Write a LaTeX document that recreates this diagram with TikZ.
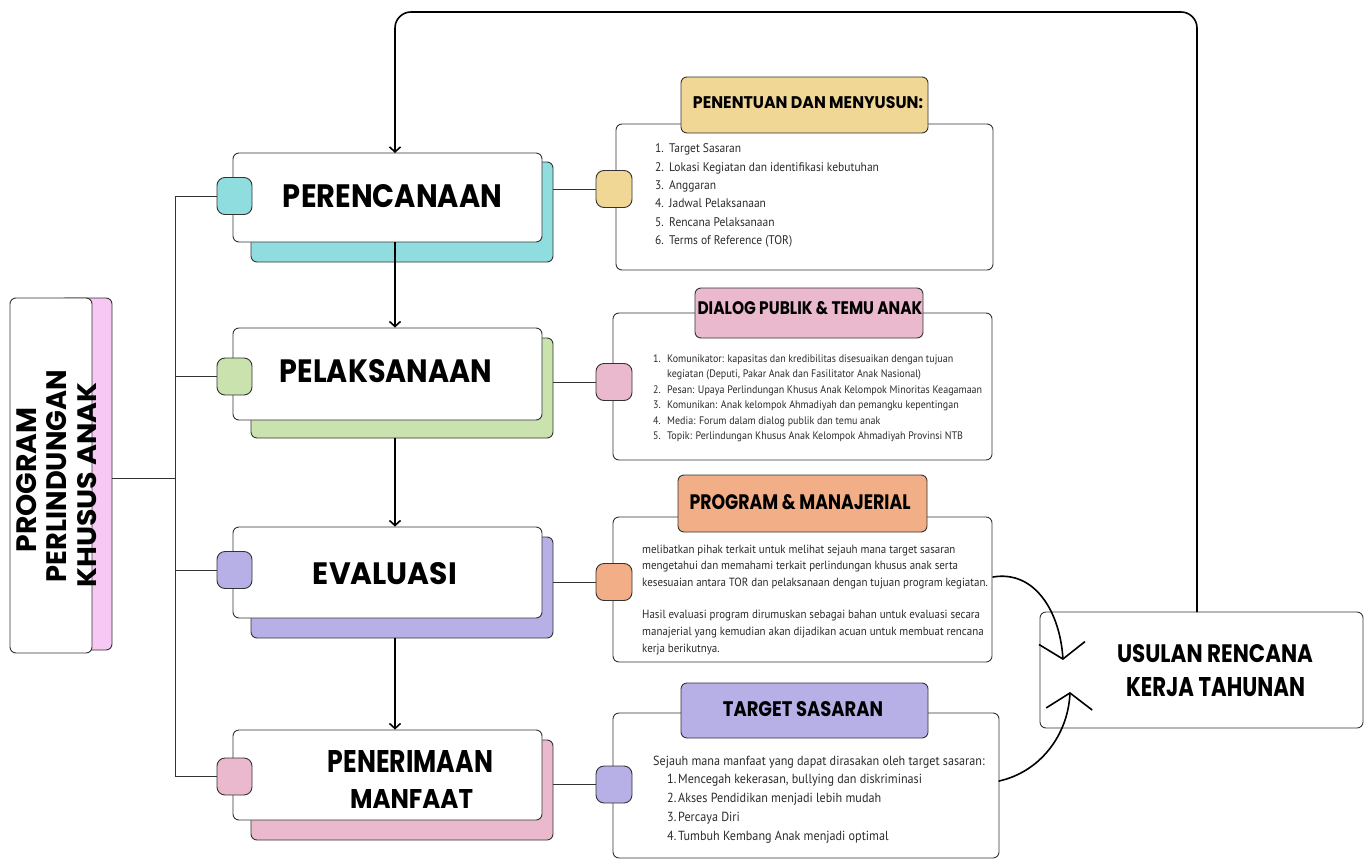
\documentclass[tikz,border=0pt]{standalone}
\usepackage{fontspec}
\setmainfont{PT Sans}
\newfontfamily\headfont{Poppins}
\newfontfamily\bodyfont[FakeStretch=0.92]{PT Sans}
\usetikzlibrary{arrows.meta,calc}
\definecolor{lc}{HTML}{333333}
\definecolor{txt}{HTML}{2B2B2B}
\definecolor{cteal}{HTML}{8FDDDF}
\definecolor{cgreen}{HTML}{C9E2AE}
\definecolor{cpurple}{HTML}{B6B0E6}
\definecolor{cpink}{HTML}{EBB9CD}
\definecolor{cyellow}{HTML}{F1D796}
\definecolor{corange}{HTML}{F2AE86}
\definecolor{cmag}{HTML}{F6C8F3}
\newcommand\hd[3]{\resizebox{#1pt}{#2pt}{\headfont\bfseries #3}}
\newcommand\nm[3]{\makebox[#1pt][l]{#2}#3}
\begin{document}
\begin{tikzpicture}[x=1pt,y=-1pt,
  wbox/.style={draw=lc, fill=white, rounded corners=6pt, line width=0.9pt, inner sep=0pt},
  sbox/.style={draw=lc, rounded corners=6pt, line width=0.9pt, inner sep=0pt},
  sqbox/.style={draw=lc, rounded corners=8pt, line width=0.9pt, minimum width=36pt, minimum height=37pt, inner sep=0pt},
  conn/.style={draw=lc, line width=0.9pt},
  arr/.style={draw=black, line width=1.6pt, -{Straight Barb[length=5pt,width=11pt]}},
  bigarr/.style={draw=black, line width=1.6pt, line cap=round, -{Straight Barb[length=16pt,width=46pt]}},
  htext/.style={inner sep=0pt, text=black},
  btext/.style={inner sep=0pt, anchor=base west, text=txt},
]
\useasboundingbox (0,0) rectangle (1368,859);
\fill[white] (0,0) rectangle (1368,859);

% ---------- top loop ----------
\coordinate (usTop) at (1197,612);
\coordinate (perTop) at (395,153);

% ---------- left program box ----------
\node[sbox, fill=cmag, minimum width=52pt, minimum height=352pt] (lpink) at (86,474) {};
\node[wbox, minimum width=82pt, minimum height=355pt] (lbox) at (51,475.5) {};
\node[htext, rotate=90] (lt1) at (27,480) {\hd{145}{20}{PROGRAM}};
\node[htext, rotate=90] (lt2) at (57,476) {\hd{212}{20}{PERLINDUNGAN}};
\node[htext, rotate=90] (lt3) at (87.5,485) {\hd{205}{19}{KHUSUS ANAK}};

% ---------- content boxes (right column) ----------
\node[wbox, minimum width=377pt, minimum height=146pt] (c1) at (804.5,197) {};
\node[wbox, minimum width=379pt, minimum height=147pt] (c2) at (802.5,386.5) {};
\node[wbox, minimum width=379pt, minimum height=145pt] (c3) at (802.5,589.5) {};
\node[wbox, minimum width=386pt, minimum height=145pt] (c4) at (806,785.5) {};

\node[sbox, fill=cyellow, minimum width=247pt, minimum height=56pt] (h1) at (804.5,105) {};
\node[sbox, fill=cpink, minimum width=228pt, minimum height=50pt] (h2) at (809,313) {};
\node[sbox, fill=corange, minimum width=249pt, minimum height=57pt] (h3) at (802.5,503.5) {};
\node[sbox, fill=cpurple, minimum width=247pt, minimum height=55pt] (h4) at (804.5,710.5) {};
\node[htext] (h1t) at (808,103) {\hd{230}{12}{PENENTUAN DAN MENYUSUN:}};
\node[htext] (h2t) at (810,308.5) {\hd{225}{13}{DIALOG PUBLIK \& TEMU ANAK}};
\node[htext] (h3t) at (800,502.5) {\hd{221}{15}{PROGRAM \& MANAJERIAL}};
\node[htext] (h4t) at (803,709.5) {\hd{160}{15}{TARGET SASARAN}};

% ---------- main step boxes ----------
\node[sbox, fill=cteal, minimum width=302pt, minimum height=100pt] (perS) at (402,212) {};
\node[wbox, minimum width=309pt, minimum height=89pt] (per) at (387.5,197.5) {};
\node[sbox, fill=cgreen, minimum width=302pt, minimum height=100pt] (pelS) at (402,388) {};
\node[wbox, minimum width=309pt, minimum height=92pt] (pel) at (387.5,374) {};
\node[sbox, fill=cpurple, minimum width=302pt, minimum height=101pt] (evaS) at (402,587.5) {};
\node[wbox, minimum width=309pt, minimum height=91pt] (eva) at (387.5,572.5) {};
\node[sbox, fill=cpink, minimum width=302pt, minimum height=100pt] (penS) at (402,790) {};
\node[wbox, minimum width=309pt, minimum height=90pt] (pen) at (387.5,775) {};

\node[htext] (pert) at (392.5,196.5) {\hd{219}{23}{PERENCANAAN}};
\node[htext] (pelt) at (386,371.5) {\hd{212}{23}{PELAKSANAAN}};
\node[htext] (evat) at (385,574) {\hd{144}{22}{EVALUASI}};
\node[htext] (pent1) at (410.5,761) {\hd{165}{22}{PENERIMAAN}};
\node[htext] (pent2) at (411.5,799) {\hd{123}{19}{MANFAAT}};

% ---------- connectors: bus on the left ----------
\coordinate (busx) at (175,0);
\draw[conn] ([yshift=-4pt]lpink.east) -- ([yshift=-4pt]lpink.east -| busx);

\node[sqbox, fill=cteal, minimum width=35pt] (la) at (234.5,196) {};
\node[sqbox, fill=cgreen, minimum width=35pt] (lb) at (234.5,376.5) {};
\node[sqbox, fill=cpurple, minimum width=35pt] (lc) at (234.5,570) {};
\node[sqbox, fill=cpink, minimum width=35pt] (ld) at (234.5,776.5) {};
\draw[conn] (la.west) -- (la.west -| busx) -- (ld.west -| busx) -- (ld.west);
\draw[conn] (lb.west) -- (lb.west -| busx);
\draw[conn] (lc.west) -- (lc.west -| busx);

% ---------- connectors to right column ----------
\node[sqbox, fill=cyellow] (ra) at (614,189) {};
\node[sqbox, fill=cpink] (rb) at (614,382) {};
\node[sqbox, fill=corange] (rc) at (614,582) {};
\node[sqbox, fill=cpurple] (rd) at (614,784.5) {};
\draw[conn] (ra.west) -- (ra.west -| perS.east);
\draw[conn] (rb.west) -- (rb.west -| pelS.east);
\draw[conn] (rc.west) -- (rc.west -| evaS.east);
\draw[conn] (rd.west) -- (rd.west -| penS.east);

% ---------- vertical flow arrows ----------
\draw[arr] (per.south -| perTop) -- (pel.north -| perTop);
\draw[arr] (pelS.south -| perTop) -- (eva.north -| perTop);
\draw[arr] (evaS.south -| perTop) -- (pen.north -| perTop);

% ---------- usulan box ----------
\node[wbox, minimum width=323pt, minimum height=116pt] (us) at (1201.5,670) {};
\node[htext] (ust1) at (1215,654) {\hd{196}{18}{USULAN RENCANA}};
\node[htext] (ust2) at (1215.5,687) {\hd{179}{19}{KERJA TAHUNAN}};

\draw[arr, rounded corners=16pt] (usTop) -- (1197,12) -- (395,12) -- (perTop);

% ---------- curved arrows ----------
\coordinate (cA) at (993,577);
\coordinate (tA) at (1063,660);
\coordinate (cB) at (999,781);
\coordinate (tB) at (1070,692);
\draw[bigarr] (cA) .. controls (1035,570) and (1060,612) .. (tA);
\draw[bigarr] (cB) .. controls (1040,772) and (1068,735) .. (tB);

% ---------- body texts ----------
\begin{scope}[font=\bodyfont\fontsize{12.5}{15}\selectfont]
\foreach \t [count=\i] in {{\nm{14}{1.}{Target Sasaran}},
  {\nm{14}{2.}{Lokasi Kegiatan dan identifikasi kebutuhan}},
  {\nm{14}{3.}{Anggaran}},
  {\nm{14}{4.}{Jadwal Pelaksanaan}},
  {\nm{14}{5.}{Rencana Pelaksanaan}},
  {\nm{14}{6.}{Terms of Reference (TOR)}}}
  \node[btext] (b1l\i) at (655,{152.7+18.4*(\i-1)}) {\t};
\end{scope}

\begin{scope}[font=\bodyfont\fontsize{10.9}{14}\selectfont]
\foreach \t [count=\i] in {{\nm{14}{1.}{Komunikator: kapasitas dan kredibilitas disesuaikan dengan tujuan}},
  {\nm{14}{}{kegiatan (Deputi, Pakar Anak dan Fasilitator Anak Nasional)}},
  {\nm{14}{2.}{Pesan: Upaya Perlindungan Khusus Anak Kelompok Minoritas Keagamaan}},
  {\nm{14}{3.}{Komunikan: Anak kelompok Ahmadiyah dan pemangku kepentingan}},
  {\nm{14}{4.}{Media: Forum dalam dialog publik dan temu anak}},
  {\nm{14}{5.}{Topik: Perlindungan Khusus Anak Kelompok Ahmadiyah Provinsi NTB}}}
  \node[btext] (b2l\i) at (653,{362.3+15.5*(\i-1)}) {\t};
\end{scope}

\begin{scope}[font=\bodyfont\fontsize{11.9}{14}\selectfont]
\foreach \t [count=\i] in {{melibatkan pihak terkait untuk melihat sejauh mana target sasaran},
  {mengetahui dan memahami terkait perlindungan khusus anak serta},
  {kesesuaian antara TOR dan pelaksanaan dengan tujuan program kegiatan.}}
  \node[btext] (b3a\i) at (642,{553+16.6*(\i-1)}) {\t};
\foreach \t [count=\i] in {{Hasil evaluasi program dirumuskan sebagai bahan untuk evaluasi secara},
  {manajerial yang kemudian akan dijadikan acuan untuk membuat rencana},
  {kerja berikutnya.}}
  \node[btext] (b3b\i) at (642,{618+17*(\i-1)}) {\t};
\end{scope}

\begin{scope}[font=\bodyfont\fontsize{13.2}{16}\selectfont]
\node[btext] (b4l0) at (653,765.5) {Sejauh mana manfaat yang dapat dirasakan oleh target sasaran:};
\foreach \t [count=\i] in {{\nm{11}{1.}{Mencegah kekerasan, bullying dan diskriminasi}},
  {\nm{11}{2.}{Akses Pendidikan menjadi lebih mudah}},
  {\nm{11}{3.}{Percaya Diri}},
  {\nm{11}{4.}{Tumbuh Kembang Anak menjadi optimal}}}
  \node[btext] (b4l\i) at (667,{783.5+18.9*(\i-1)}) {\t};
\end{scope}
\end{tikzpicture}
\end{document}
